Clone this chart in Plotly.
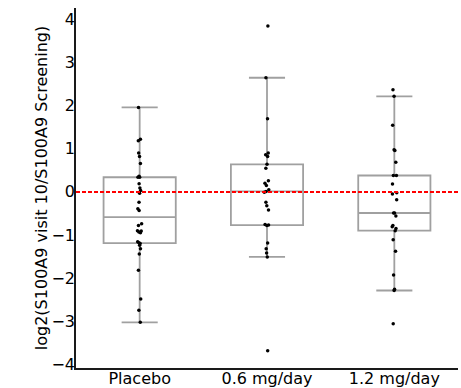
import plotly.graph_objects as go

categories = ["Placebo", "0.6 mg/day", "1.2 mg/day"]

placebo = [1.96, 1.22, 1.19, 0.90, 0.82, 0.66, 0.36, 0.34, 0.34, 0.19, 0.09, 0.03,
           -0.03, -0.24, -0.39, -0.43, -0.74, -0.78, -0.90, -0.91, -0.93, -0.95,
           -1.16, -1.18, -1.20, -1.24, -1.32, -1.44, -1.82, -2.49, -2.75, -3.03]
dose_06 = [3.85, 2.65, 1.70, 0.90, 0.86, 0.82, 0.64, 0.55, 0.26, 0.20, 0.15, 0.05,
           0.01, -0.01, -0.24, -0.32, -0.42, -0.76, -0.77, -0.78, -1.19, -1.32,
           -1.42, -1.51, -3.69]
dose_12 = [2.37, 2.22, 1.55, 0.98, 0.96, 0.69, 0.38, 0.38, 0.18, -0.02, -0.05, -0.18,
           -0.49, -0.49, -0.56, -0.78, -0.81, -0.85, -0.90, -1.11, -1.38, -1.93,
           -2.26, -2.29, -3.06]

reference_value = 0
y_ticks = [-4, -3, -2, -1, 0, 1, 2, 3, 4]
y_title = "log2(S100A9 visit 10/S100A9 Screening)"

xs, ys = [], []
for cat, vals in zip(categories, [placebo, dose_06, dose_12]):
    xs += [cat] * len(vals)
    ys += vals

fig = go.Figure()
fig.add_trace(go.Box(
    x=xs, y=ys,
    quartilemethod="inclusive",
    boxpoints="all", jitter=0.08, pointpos=0,
    fillcolor="white",
    line=dict(color="#a0a0a0", width=1.8),
    marker=dict(color="black", size=3.5),
    whiskerwidth=0.5,
    showlegend=False,
))

fig.add_shape(type="line", xref="paper", x0=0, x1=1, yref="y",
              y0=reference_value, y1=reference_value,
              line=dict(color="#ff0000", width=2, dash="4px,2px"))

fig.update_layout(
    width=461, height=388,
    margin=dict(l=76, r=3, t=8, b=20),
    plot_bgcolor="white", paper_bgcolor="white",
    font=dict(family="DejaVu Sans", size=16, color="black"),
    boxgap=0.19,
    showlegend=False,
)
fig.update_xaxes(range=[-0.5, 2.5], showline=True, linecolor="#1a1a1a", linewidth=1.5,
                 ticks="", showgrid=False, automargin=False, ticklabelstandoff=-5,
                 zeroline=False, categoryorder="array", categoryarray=categories)
fig.update_yaxes(range=[-4.09, 4.27], tickvals=y_ticks, showline=True,
                 linecolor="#1a1a1a", linewidth=1.5, ticks="", automargin=False,
                 showgrid=False, zeroline=False, ticklabelstandoff=-4,
                 title=dict(text=y_title, standoff=0, font=dict(size=16)))

fig.write_html("out.html", config={"displayModeBar": False},
               post_script="document.body.style.margin='0';document.body.style.overflow='hidden';")
